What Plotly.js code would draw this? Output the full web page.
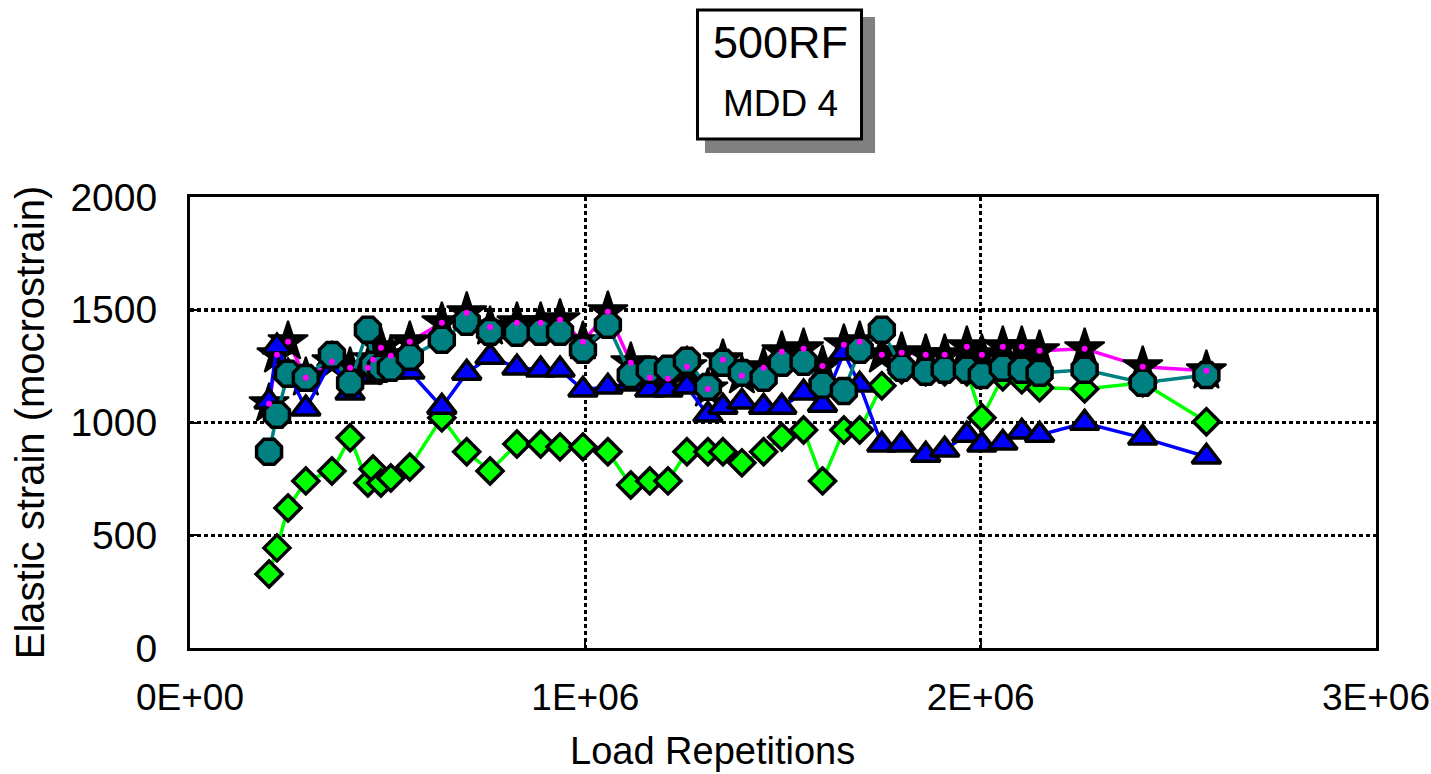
<!DOCTYPE html>
<html>
<head>
<meta charset="utf-8">
<script src="https://cdn.plot.ly/plotly-3.0.1.min.js"></script>
<style>html,body{margin:0;padding:0;background:#fff;}#chart{width:1431px;height:774px;}</style>
</head>
<body>
<div id="chart"></div>
<script>
// Load repetitions (x)
const loadReps = [200000, 220000, 248000, 293000, 359000, 405000, 450000, 463000, 483000, 508000,
  556000, 637000, 700000, 759000, 827000, 887000, 936000, 994000, 1057000, 1115000,
  1163000, 1209000, 1257000, 1310000, 1348000, 1396000, 1451000, 1497000, 1552000, 1600000,
  1654000, 1694000, 1750000, 1800000, 1861000, 1909000, 1965000, 2003000, 2056000, 2104000,
  2149000, 2263000, 2410000, 2571000];
// Elastic strain series
const starSeries = [1083, 1300, 1358, 1198, 1269, 1243, 1243, 1278, 1331, 1296,
  1358, 1442, 1487, 1424, 1442, 1442, 1456, 1358, 1491, 1265,
  1198, 1194, 1247, 1149, 1278, 1207, 1243, 1314, 1327, 1251,
  1345, 1358, 1300, 1309, 1300, 1300, 1336, 1300, 1336, 1336,
  1318, 1327, 1247, 1229];
const tealSeries = [870, 1034, 1216, 1198, 1300, 1176, 1411, 1256, 1243, 1243,
  1291, 1367, 1447, 1402, 1398, 1402, 1402, 1322, 1433, 1211,
  1234, 1238, 1274, 1158, 1265, 1220, 1198, 1265, 1269, 1167,
  1140, 1322, 1411, 1243, 1225, 1234, 1234, 1211, 1243, 1234,
  1220, 1234, 1176, 1211];
const blueSeries = [1092, 1336, 1225, 1061, 1278, 1132, 1203, 1211, 1225, 1225,
  1225, 1069, 1220, 1291, 1243, 1234, 1234, 1145, 1158, 1172,
  1145, 1145, 1158, 1034, 1069, 1092, 1069, 1069, 1132, 1078,
  1309, 1167, 901, 901, 856, 879, 945, 901, 910, 959,
  945, 998, 932, 848];
const greenSeries = [328, 444, 621, 741, 785, 932, 732, 794, 732, 754,
  803, 1021, 870, 785, 905, 905, 892, 892, 870, 723,
  741, 741, 870, 870, 870, 821, 870, 936, 967, 741,
  967, 967, 1163, 1234, 1225, 1225, 1225, 1021, 1203, 1189,
  1154, 1149, 1176, 1003];
// Tick labels
const xTickVals = [0, 1000000, 2000000, 3000000];
const xTickText = ['0E+00', '1E+06', '2E+06', '3E+06'];
const yTickVals = [0, 500, 1000, 1500, 2000];
const titleLines = ['500RF', 'MDD 4'];
const xTitle = 'Load Repetitions';
const yTitle = 'Elastic strain (mocrostrain)';

const FONT = 'Liberation Sans, Arial, sans-serif';

const traces = [
  {x: loadReps, y: greenSeries, mode: 'lines+markers', type: 'scatter',
   line: {color: '#00FF00', width: 3.5},
   marker: {symbol: 'diamond', size: 20, color: '#00FF00', line: {color: '#000', width: 3.5}}},
  {x: loadReps, y: starSeries, mode: 'lines+markers', type: 'scatter',
   line: {color: '#FF00FF', width: 3.5},
   marker: {symbol: 'star', size: 30, color: '#000', line: {color: '#000', width: 2}}},
  {x: loadReps, y: blueSeries, mode: 'lines+markers', type: 'scatter',
   line: {color: '#0000FF', width: 3.5},
   marker: {symbol: 'triangle-up', size: 25, color: '#0000FF', line: {color: '#000', width: 3.5}}},
  {x: loadReps, y: tealSeries, mode: 'lines+markers', type: 'scatter',
   line: {color: '#008080', width: 3.5},
   marker: {symbol: 'octagon', size: 27, color: '#008080', line: {color: '#000', width: 3.5}}},
  {x: loadReps, y: starSeries, mode: 'markers', type: 'scatter',
   marker: {symbol: 'circle', size: 6, color: '#FF00FF', line: {width: 0}}}
];

const layout = {
  width: 1431, height: 774,
  margin: {l: 190, r: 55, t: 197, b: 126},
  paper_bgcolor: '#fff', plot_bgcolor: '#fff',
  showlegend: false,
  font: {family: FONT, color: '#000', size: 39},
  xaxis: {
    range: [0, 3000000], tickvals: xTickVals, ticktext: xTickText,
    showline: true, linecolor: '#000', linewidth: 3, mirror: true,
    ticks: 'inside', ticklen: 7, tickwidth: 2, tickcolor: '#000',
    showgrid: true, gridcolor: '#000', gridwidth: 3.5, griddash: 'dot',
    zeroline: false, ticklabelstandoff: 15,
    tickfont: {family: FONT, size: 37, color: '#000'}
  },
  yaxis: {
    range: [0, 2000], tickvals: yTickVals,
    showline: true, linecolor: '#000', linewidth: 3, mirror: true,
    ticks: 'inside', ticklen: 7, tickwidth: 2, tickcolor: '#000',
    showgrid: true, gridcolor: '#000', gridwidth: 3.5, griddash: 'dot',
    zeroline: false, ticklabelstandoff: 22,
    tickfont: {family: FONT, size: 39, color: '#000'},
    title: {text: yTitle, font: {family: FONT, size: 40, color: '#000'}, standoff: 14}
  },
  shapes: [
    {type: 'rect', xref: 'paper', yref: 'paper', x0: 0.4342, x1: 0.5776, y0: 1.0976, y1: 1.399,
     fillcolor: '#808080', line: {width: 0}},
    {type: 'rect', xref: 'paper', yref: 'paper', x0: 0.4279, x1: 0.5662, y0: 1.1286, y1: 1.4146,
     fillcolor: '#fff', line: {color: '#000', width: 3}}
  ],
  annotations: [
    {text: titleLines[0], xref: 'paper', yref: 'paper', x: 0.4975, y: 1.3415,
     xanchor: 'center', yanchor: 'middle', showarrow: false, font: {family: FONT, size: 45, color: '#000'}},
    {text: titleLines[1], xref: 'paper', yref: 'paper', x: 0.4975, y: 1.2084,
     xanchor: 'center', yanchor: 'middle', showarrow: false, font: {family: FONT, size: 37, color: '#000'}},
    {text: xTitle, xref: 'paper', yref: 'paper', x: (712 - 190) / 1186, y: -(751 - 648) / 451,
     xanchor: 'center', yanchor: 'middle', showarrow: false, font: {family: FONT, size: 38, color: '#000'}}
  ]
};

Plotly.newPlot('chart', traces, layout, {displayModeBar: false, staticPlot: true});
</script>
</body>
</html>
